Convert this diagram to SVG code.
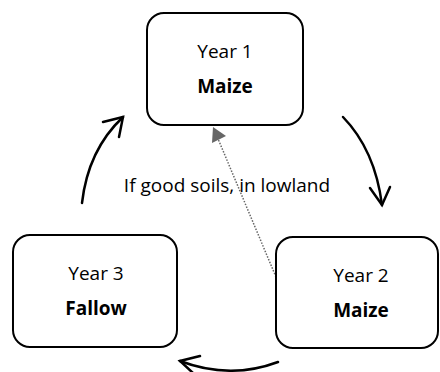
<svg xmlns="http://www.w3.org/2000/svg" width="440" height="372" viewBox="0 0 440 372">
<style>
.box{fill:#fff;stroke:#000;stroke-width:2}
.t{font-family:"Open Sans","Liberation Sans",sans-serif;font-size:19px;fill:#000;text-anchor:middle}
.b{font-weight:bold}
.arc{fill:none;stroke:#000;stroke-width:2.5;stroke-linecap:round}
.dot{fill:none;stroke:#666;stroke-width:1.5;stroke-dasharray:1.5 1.5}
</style>
<rect width="440" height="372" fill="#fff"/>
<g id="connectors">
<path class="dot" d="M276,277 L216,134"/>
<polygon points="213,127 212,143 226,136" fill="#666"/>
<path class="arc" d="M82,203 Q88,150 123,117"/>
<path class="arc" d="M103,122 L123,117 L119,137"/>
<path class="arc" d="M343,117 Q375,150 382,205"/>
<path class="arc" d="M370,188 L382,205 L390,187"/>
<path class="arc" d="M278,362 Q230,380 180,361"/>
<path class="arc" d="M200,356 L180,361 L193,373"/>
<text class="t" x="227" y="192">If good soils, in lowland</text>
</g>
<g id="year1">
<rect class="box" x="147" y="13" width="156" height="112" rx="17"/>
<text class="t" x="225" y="58">Year 1</text>
<text class="t b" x="225" y="93">Maize</text>
</g>
<g id="year2">
<rect class="box" x="276" y="237" width="162" height="111" rx="17"/>
<text class="t" x="361" y="282">Year 2</text>
<text class="t b" x="361" y="317">Maize</text>
</g>
<g id="year3">
<rect class="box" x="13" y="235" width="164" height="112" rx="17"/>
<text class="t" x="96" y="280">Year 3</text>
<text class="t b" x="96" y="315">Fallow</text>
</g>
</svg>
